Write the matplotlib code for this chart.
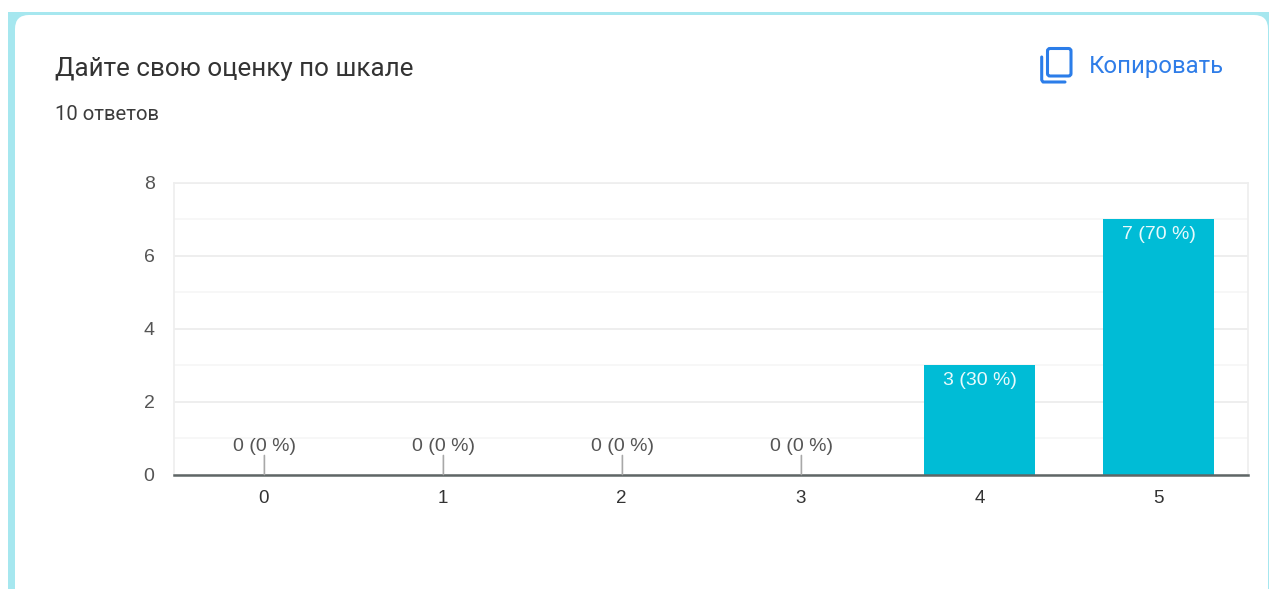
import matplotlib
matplotlib.use('Agg')
import matplotlib.pyplot as plt
from matplotlib.patches import FancyBboxPatch, Rectangle

categories = ['0', '1', '2', '3', '4', '5']
counts = [0, 0, 0, 0, 3, 7]
percents = [0, 0, 0, 0, 30, 70]
y_ticks = [0, 2, 4, 6, 8]
y_minor = [1, 3, 5, 7]

W, H = 1269, 589
title = 'Дайте свою оценку по шкале'
subtitle = '10 ответов'
copy_label = 'Копировать'

fig = plt.figure(figsize=(W / 100, H / 100), dpi=100, facecolor='white')

# background in pixel coords: teal border + white card
bg = fig.add_axes([0, 0, 1, 1])
bg.set_xlim(0, W)
bg.set_ylim(H, 0)
bg.axis('off')
bg.add_patch(Rectangle((8, 12), W, H, fc='#a6e7ef', ec='none'))
bg.add_patch(FancyBboxPatch((29, 29), W - 29 - 15, H + 60, boxstyle='round,pad=14,rounding_size=14',
                            fc='white', ec='none'))
bg.text(55, 69, title, fontsize=18.75, family='Roboto', color='#333333', va='center', ha='left')
bg.text(55, 115, subtitle, fontsize=14.6, family='Roboto', color='#3c3c3c', va='center', ha='left')
bg.text(1089, 66.5, copy_label, fontsize=17.2, family='Roboto', color='#2f7de8', va='center', ha='left')

# copy icon
blue = '#2b7de9'
bg.add_patch(FancyBboxPatch((1049, 50), 20.5, 24.5, boxstyle='round,pad=1.5,rounding_size=2.5',
                            fc='none', ec=blue, lw=2.2))
bg.plot([1041.7, 1041.7, 1043, 1065], [57, 80, 82, 82], color=blue, lw=2.2, solid_capstyle='round')

# chart
left, right, top, bottom = 174, 1248, 183, 474.5
ax = fig.add_axes([left / W, 1 - bottom / H, (right - left) / W, (bottom - top) / H])
ax.patch.set_alpha(0)
x = list(range(len(categories)))
ax.set_xlim(-0.5, 5.5)
ax.set_ylim(0, 8)
ax.set_axisbelow(True)
ax.set_yticks(y_ticks)
ax.set_yticks(y_minor, minor=True)
ax.set_xticks(x)
ax.set_xticklabels(categories)
ax.grid(axis='y', which='major', color='#ebebeb', lw=1.2)
ax.grid(axis='y', which='minor', color='#f6f6f6', lw=1.2)
ax.tick_params(axis='both', which='both', length=0)
ax.tick_params(axis='x', pad=11, labelsize=13.5, labelcolor='#333333')
ax.tick_params(axis='y', pad=14, labelsize=14, labelcolor='#555555')
for lab in ax.get_xticklabels() + ax.get_yticklabels():
    lab.set_family('Liberation Sans')

for side in ['top', 'right', 'left']:
    ax.spines[side].set_color('#eeeeee')
    ax.spines[side].set_linewidth(1.2)
ax.spines['bottom'].set_color('#5f6666')
ax.spines['bottom'].set_linewidth(1.8)

ax.bar(x, counts, width=0.62, color='#00bcd6', edgecolor='none', zorder=2)

for xi, c, pc in zip(x, counts, percents):
    label = '%d (%d %%)' % (c, pc)
    if c > 0:
        ax.annotate(label, xy=(xi, c), xytext=(0, -15.5), textcoords='offset pixels',
                    ha='center', va='center', fontsize=14, color='#e8fafc',
                    family='Liberation Sans', zorder=3)
    else:
        ax.annotate('', xy=(xi + 0.005, 0), xytext=(0, 19), textcoords='offset pixels',
                    arrowprops=dict(arrowstyle='-', color='#a8a8a8', lw=1.2, shrinkA=0, shrinkB=0), zorder=3)
        ax.annotate(label, xy=(xi, 0), xytext=(1, 28), textcoords='offset pixels',
                    ha='center', va='center', fontsize=14, color='#555555',
                    family='Liberation Sans', zorder=3)

fig.savefig('out.png', dpi=100)
